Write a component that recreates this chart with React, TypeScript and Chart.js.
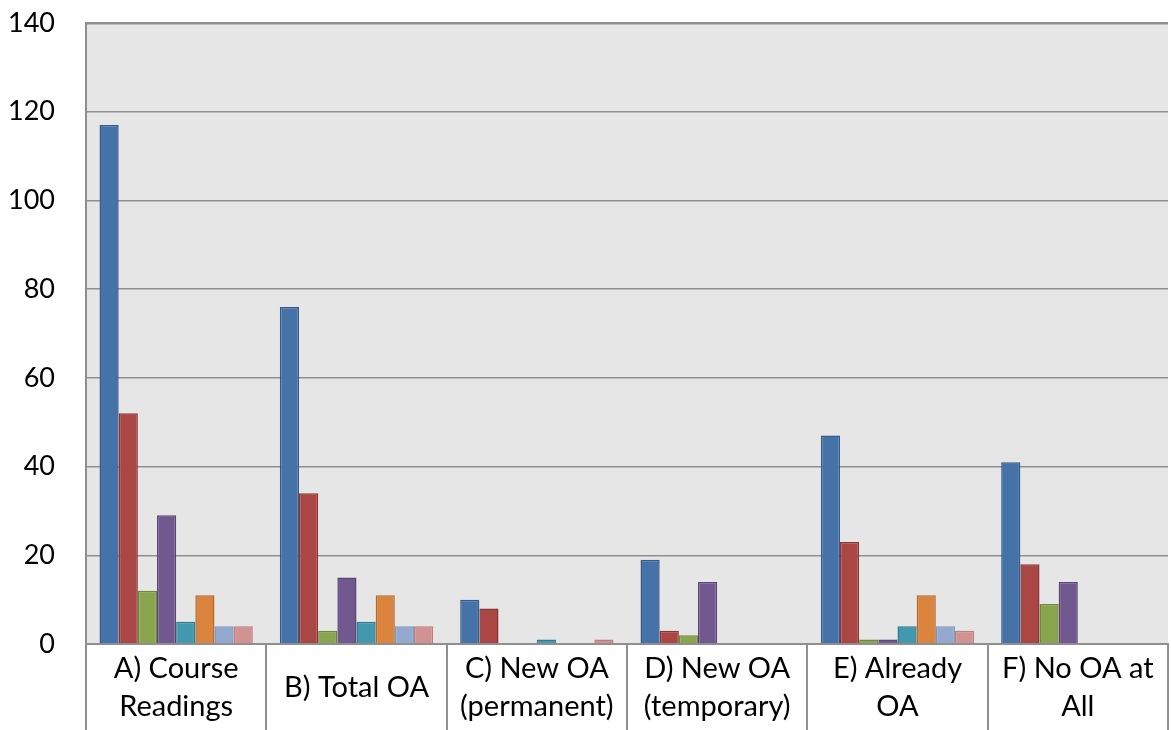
import React, { useEffect, useRef } from "react";
import { Chart, registerables } from "chart.js";

Chart.register(...registerables);

const categories: string[][] = [
  ["A) Course", "Readings"],
  ["B) Total OA"],
  ["C) New OA", "(permanent)"],
  ["D) New OA", "(temporary)"],
  ["E) Already", "OA"],
  ["F) No OA at", "All"],
];

const series1 = [117, 76, 10, 19, 47, 41];
const series2 = [52, 34, 8, 3, 23, 18];
const series3 = [12, 3, 0, 2, 1, 9];
const series4 = [29, 15, 0, 14, 1, 14];
const series5 = [5, 5, 1, 0, 4, 0];
const series6 = [11, 11, 0, 0, 11, 0];
const series7 = [4, 4, 0, 0, 4, 0];
const series8 = [4, 4, 1, 0, 3, 0];

const seriesNames = ["Series 1", "Series 2", "Series 3", "Series 4", "Series 5", "Series 6", "Series 7", "Series 8"];
const seriesValues = [series1, series2, series3, series4, series5, series6, series7, series8];
const fillColors = ["#4572A7", "#AA4643", "#89A54E", "#71588F", "#4198AF", "#DB843D", "#93A9CF", "#D19392"];
const borderColors = ["#35598A", "#893533", "#6E873C", "#5A4574", "#317A8D", "#B36A2D", "#8096BC", "#BE7E7D"];

const yMin = 0;
const yMax = 140;
const yStep = 20;

const FONT = "Lato, 'Open Sans', sans-serif";
const GRID = "#8F8F8F";

const plotBackground = {
  id: "plotBackground",
  beforeDraw(chart: any) {
    const { ctx, chartArea } = chart;
    if (!chartArea) return;
    ctx.save();
    ctx.fillStyle = "#E6E6E6";
    ctx.fillRect(chartArea.left, chartArea.top, chartArea.right - chartArea.left, chartArea.bottom - chartArea.top);
    ctx.restore();
  },
};

export default function App() {
  const ref = useRef<HTMLCanvasElement | null>(null);

  useEffect(() => {
    if (!ref.current) return;
    const chart = new Chart(ref.current, {
      type: "bar",
      data: {
        labels: categories,
        datasets: seriesValues.map((vals, i) => ({
          label: seriesNames[i],
          data: vals,
          backgroundColor: fillColors[i],
          borderColor: borderColors[i],
          borderWidth: 1.5,
          borderSkipped: "bottom",
          categoryPercentage: 0.85,
          barPercentage: 1,
        })),
      },
      options: {
        responsive: false,
        animation: false,
        devicePixelRatio: 1,
        layout: { padding: { top: 0, right: 3, left: 0, bottom: 0 } },
        plugins: {
          legend: { display: false },
          tooltip: { enabled: false },
          title: { display: false },
        },
        scales: {
          x: {
            offset: true,
            grid: {
              offset: true,
              drawOnChartArea: false,
              drawTicks: true,
              tickLength: 86,
              color: GRID,
              lineWidth: 2,
            },
            border: { display: true, color: GRID, width: 2 },
            ticks: {
              color: "#000",
              font: { family: FONT, size: 29, lineHeight: 1.31 },
              padding: -61,
              crossAlign: "center",
              maxRotation: 0,
              autoSkip: false,
            },
            afterFit(scale: any) {
              scale.height = 86;
            },
          },
          y: {
            min: yMin,
            max: yMax,
            grid: {
              color: GRID,
              lineWidth: (c: any) => (c.tick && c.tick.value === yMax ? 2.5 : 1.5),
              drawTicks: false,
            },
            border: { display: true, color: GRID, width: 2 },
            ticks: {
              stepSize: yStep,
              color: "#000",
              font: { family: FONT, size: 27 },
              padding: 31,
            },
            afterFit(scale: any) {
              scale.width = 86;
              scale.paddingTop = 23;
              scale.paddingBottom = 0;
            },
          },
        },
      },
      plugins: [plotBackground],
    });
    return () => chart.destroy();
  }, []);

  return (
    <div style={{ position: "absolute", left: 0, top: 0, width: 1171, height: 730, background: "#fff" }}>
      <canvas ref={ref} width={1171} height={730} style={{ width: 1171, height: 730, display: "block" }} />
    </div>
  );
}
